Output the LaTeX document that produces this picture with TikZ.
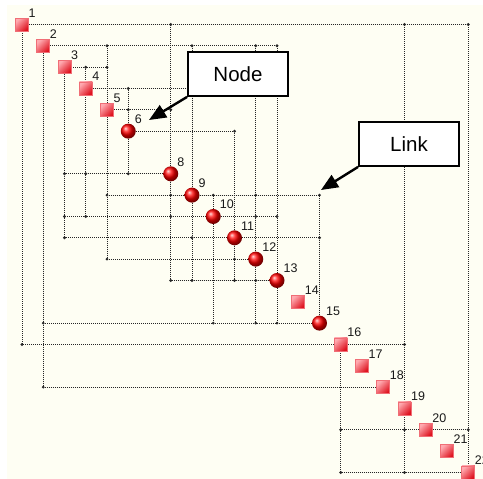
\documentclass[tikz,border=0pt]{standalone}
\usepackage{fontspec}
\setmainfont{Liberation Sans}
\usetikzlibrary{arrows.meta}
\definecolor{paper}{RGB}{254,254,243}
\definecolor{sqred}{RGB}{222,18,30}
\definecolor{sqpink}{RGB}{255,170,176}
\definecolor{sqrim}{RGB}{240,110,118}
\pgfdeclarelayer{paperlayer}
\pgfdeclarelayer{linklayer}
\pgfsetlayers{paperlayer,linklayer,main}
\begin{document}
\begin{tikzpicture}[x=1pt,y=-1pt,
  sqnode/.style={rectangle,minimum size=13pt,inner sep=0pt,draw=sqrim,line width=0.6pt,
    top color=sqpink,bottom color=sqred,shading angle=45},
  ballnode/.style={circle,minimum size=15pt,inner sep=0pt,shading=ball,ball color=red},
  lbl/.style={anchor=base west,inner sep=0pt,font=\fontsize{12.5}{14}\selectfont,text=black!90},
  link/.style={draw=black!85,line width=0.8pt,dash pattern=on 1pt off 1pt},
  jdot/.style={fill=black!85},
  callout/.style={draw=black,line width=1.8pt,fill=white,minimum width=100pt,minimum height=44pt,
    inner sep=0pt,font=\fontsize{20.5}{24}\selectfont},
  callarrow/.style={line width=2.4pt,-{Triangle[length=17pt,width=14pt]}}]
\useasboundingbox (0,0) rectangle (483,479);
\begin{pgfonlayer}{paperlayer}
  \fill[white] (0,0) rectangle (483,479);
  \fill[paper] (7,5) rectangle (483,479);
\end{pgfonlayer}

% grid positions of the 22 stations along the diagonal
\foreach \k in {1,...,22}{
  \pgfmathsetmacro\px{22+(\k-1)*21.25}
  \pgfmathsetmacro\py{24.5+(\k-1)*21.33}
  \coordinate (p\k) at (\px,\py);
}

% stations
\foreach \k in {1,2,3,4,5,14,16,17,18,19,20,21,22}
  \node[sqnode] (n\k) at (p\k) {};
\foreach \k in {6,8,9,10,11,12,13,15}
  \node[ballnode] (n\k) at (p\k) {};

% station numbers
\foreach \k in {1,2,3,4,5,6,8,9,10,11,12,13,14,15,16,17,18,19,20,21,22}{
  \pgfmathsetmacro\lx{22+(\k-1)*21.25+6.5}
  \pgfmathsetmacro\ly{24.5+(\k-1)*21.33-7.5}
  \node[lbl] (l\k) at (\lx,\ly) {\k};
}

% Each link is stroked as two legs that both start at a station, so legs
% sharing a track keep the same dot phase and stay dotted where they overlap.
\begin{pgfonlayer}{linklayer}
  % along the row of the first station, then down to the second one
  \foreach \a/\b in {1/22,1/19,1/8,2/5,2/9,2/12,2/13,3/4,3/5,4/6,4/9,5/6,5/8,6/11,
                     9/10,9/12,9/15,10/12,10/13,11/15,16/19,20/22}{
    \draw[link] (n\a.east) -- (n\b |- n\a) (n\b.north) -- (n\b |- n\a);
    \fill[jdot] (n\b |- n\a) circle (1.6);
  }
  % down the column of the first station, then along to the second one
  \foreach \a/\b in {1/16,2/15,2/18,3/8,3/10,3/11,4/8,4/10,5/9,5/12,6/8,8/9,8/10,8/13,
                     9/11,9/13,10/15,11/12,11/13,12/13,12/15,13/15,16/20,16/22,19/20,19/22}{
    \draw[link] (n\a.south) -- (n\a |- n\b) (n\b.west) -- (n\a |- n\b);
    \fill[jdot] (n\a |- n\b) circle (1.6);
  }
\end{pgfonlayer}

% callouts
\node[callout] (nodebox) at (238,74) {Node};
\coordinate (nodetip) at (149,120);
\draw[callarrow] (nodebox.south west) -- (nodetip);

\node[callout] (linkbox) at (409,144) {Link};
\coordinate (linktip) at (321,190);
\draw[callarrow] (linkbox.south west) -- (linktip);
\end{tikzpicture}
\end{document}
